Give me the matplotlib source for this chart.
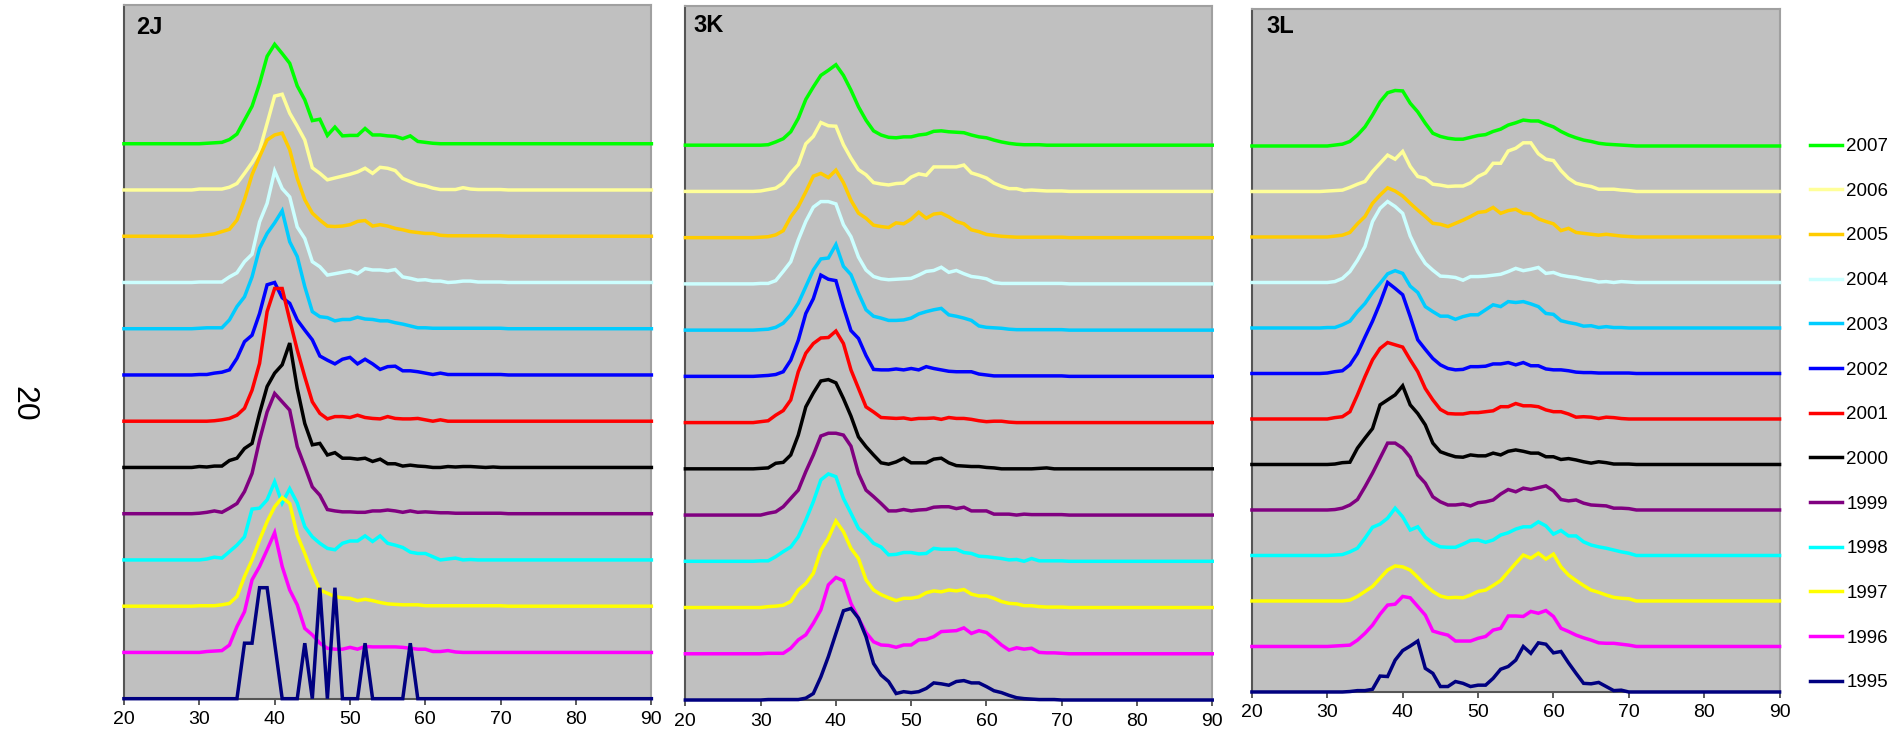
import numpy as np
import matplotlib
matplotlib.use("Agg")
import matplotlib.pyplot as plt
from matplotlib.lines import Line2D

plt.rcParams['font.family'] = ['Liberation Sans', 'DejaVu Sans']

years = [1995, 1996, 1997, 1998, 1999, 2000, 2001, 2002, 2003, 2004, 2005, 2006, 2007]
colors = ['#000080', '#FF00FF', '#FFFF00', '#00FFFF', '#800080', '#000000', '#FF0000',
          '#0000FF', '#00CCFF', '#CCFFFF', '#FFCC00', '#FFFF99', '#00FF00']
divisions = ['2J', '3K', '3L']

# length classes (cm) with non-zero frequencies; 20-29 and 71-90 are empty
length = np.arange(30, 71)

# percent at length, one row per year (1995 first), columns 30..70 cm
lf_2j = [
    [0, 0, 0, 0, 0, 0, 12, 12, 24, 24, 12, 0, 0, 0, 12, 0, 24, 0, 24, 0,
     0, 0, 12, 0, 0, 0, 0, 0, 12, 0, 0, 0, 0, 0, 0, 0, 0, 0, 0, 0, 0],
    [0, 0.2, 0.3, 0.4, 1.6, 5.6, 8.8, 15.7, 18.6, 22.2, 25.9, 18.6, 13.5, 10.3, 5.2, 3.8, 2.0, 0.9, 0.7, 0.7,
     1.1, 0.7, 1.3, 1.2, 1.2, 1.2, 1.2, 1.1, 0.9, 0.7, 0.7, 0.2, 0.2, 0.4, 0.1, 0, 0, 0, 0, 0, 0],
    [0.1, 0.1, 0.1, 0.3, 0.6, 2.1, 6.4, 10.0, 14.3, 18.3, 21.5, 23.5, 22.2, 15.4, 11.4, 7.1, 3.5, 2.8, 2.1, 1.8,
     1.7, 1.2, 1.5, 1.2, 0.8, 0.5, 0.4, 0.3, 0.3, 0.3, 0.1, 0.1, 0.1, 0.1, 0.1, 0.1, 0.1, 0.1, 0.1, 0.1, 0.1],
    [0, 0.2, 0.6, 0.4, 1.8, 3.2, 5.0, 11.0, 11.2, 13.0, 16.9, 12.3, 15.4, 12.3, 7.2, 5.0, 3.6, 2.5, 2.2, 3.6,
     4.1, 4.1, 5.2, 4.0, 5.2, 3.6, 3.2, 2.7, 1.7, 1.4, 1.4, 0.7, 0, 0.2, 0.4, 0, 0.1, 0, 0, 0, 0],
    [0.1, 0.3, 0.6, 0.3, 1.2, 2.2, 4.8, 8.7, 15.9, 22.0, 26.0, 24.2, 22.4, 14.5, 10.2, 5.8, 4.0, 0.9, 0.6, 0.4,
     0.4, 0.3, 0.3, 0.6, 0.6, 0.8, 0.6, 0.3, 0.6, 0.3, 0.4, 0.3, 0.2, 0.2, 0.1, 0.1, 0.1, 0.1, 0.1, 0.1, 0.1],
    [0.2, 0.1, 0.3, 0.3, 1.5, 2.0, 4.1, 5.2, 11.7, 17.5, 20.4, 22.2, 26.9, 17.1, 9.5, 4.9, 5.2, 2.7, 3.2, 2.0,
     2.0, 1.8, 2.0, 1.3, 1.8, 0.8, 0.8, 0.3, 0.5, 0.3, 0.2, 0, 0, 0.2, 0.1, 0.2, 0.2, 0.1, 0, 0.1, 0],
    [0, 0, 0.1, 0.3, 0.6, 1.3, 2.8, 6.7, 12.5, 23.7, 28.7, 28.7, 21.9, 15.4, 9.6, 4.2, 1.7, 0.5, 1.0, 1.0,
     0.8, 1.3, 0.8, 0.6, 0.5, 1.0, 0.6, 0.5, 0.5, 0.6, 0.3, 0, 0.3, 0, 0, 0, 0, 0, 0, 0, 0],
    [0.1, 0.1, 0.4, 0.6, 1.1, 3.6, 7.2, 8.6, 13.3, 19.5, 20.0, 16.7, 15.5, 11.9, 9.7, 7.6, 4.1, 3.2, 2.4, 3.4,
     3.8, 2.4, 3.4, 2.4, 1.2, 1.8, 1.9, 0.9, 0.9, 0.7, 0.4, 0.1, 0.4, 0.1, 0.1, 0.1, 0.1, 0.1, 0.1, 0.1, 0.1],
    [0.1, 0.2, 0.2, 0.2, 1.9, 4.8, 6.9, 11.2, 17.4, 20.6, 22.9, 25.5, 18.8, 15.6, 9.1, 3.7, 2.6, 2.4, 1.7, 2.0,
     2.0, 2.5, 2.1, 2.0, 1.7, 1.7, 1.3, 1.0, 0.6, 0.2, 0.2, 0.1, 0.1, 0.1, 0.1, 0.1, 0.1, 0.1, 0.1, 0.1, 0.1],
    [0.1, 0.1, 0.1, 0.1, 1.2, 2.1, 4.5, 6.1, 13.1, 17.1, 24.1, 20.3, 18.5, 12.0, 9.5, 4.5, 3.4, 1.6, 1.9, 2.2,
     2.5, 1.9, 3.0, 2.7, 2.7, 2.5, 2.8, 1.2, 0.9, 0.5, 0.6, 0.3, 0.3, 0, 0.1, 0.3, 0.3, 0.1, 0.1, 0.1, 0.1],
    [0.1, 0.3, 0.5, 1.0, 1.5, 3.5, 7.9, 13.3, 17.2, 20.8, 21.9, 22.3, 18.7, 12.5, 7.9, 5.0, 3.5, 2.2, 2.1, 2.2,
     2.5, 3.2, 3.4, 2.2, 2.5, 2.2, 1.7, 1.4, 1.0, 0.8, 0.6, 0.6, 0.2, 0.1, 0.1, 0.1, 0.1, 0.1, 0.1, 0.1, 0.1],
    [0.2, 0.2, 0.2, 0.2, 0.6, 1.4, 3.6, 5.9, 8.6, 14.4, 20.3, 20.7, 16.6, 13.8, 10.8, 4.8, 3.6, 2.2, 2.6, 3.0,
     3.4, 3.9, 4.7, 3.6, 4.9, 4.7, 4.2, 2.5, 1.8, 1.2, 0.9, 0.4, 0.1, 0.1, 0.1, 0.5, 0.2, 0.1, 0.1, 0.1, 0.1],
    [0, 0.1, 0.2, 0.3, 0.9, 2.1, 5.1, 8.1, 13.0, 18.9, 21.5, 19.5, 17.4, 12.5, 9.5, 5.0, 5.3, 1.8, 3.6, 1.7,
     1.8, 1.8, 3.3, 1.9, 1.9, 1.7, 1.6, 1.1, 1.7, 0.5, 0.3, 0.1, 0, 0, 0, 0, 0, 0, 0, 0, 0],
]

lf_3k = [
    [0, 0.1, 0.1, 0.1, 0.1, 0.1, 0.4, 1.4, 5.0, 9.4, 14.4, 19.3, 19.8, 17.7, 13.7, 7.9, 5.4, 4.0, 1.4, 1.8,
     1.6, 1.8, 2.5, 3.7, 3.5, 3.2, 4.0, 4.2, 3.7, 3.7, 2.9, 2.0, 1.6, 1.0, 0.5, 0.3, 0.2, 0.1, 0.1, 0.1, 0],
    [0, 0.1, 0.1, 0.1, 1.2, 3.0, 4.1, 6.6, 9.5, 14.9, 16.5, 15.8, 10.9, 7.7, 4.6, 2.6, 1.9, 1.8, 1.4, 1.9,
     1.9, 3.0, 3.1, 3.7, 4.8, 4.9, 5.0, 5.6, 4.4, 5.0, 4.6, 3.3, 1.9, 0.8, 1.3, 1.0, 1.2, 0.3, 0.2, 0.2, 0.1],
    [0, 0.2, 0.3, 0.5, 1.3, 3.8, 5.2, 7.4, 12.4, 15.0, 18.7, 16.4, 12.8, 10.6, 6.0, 3.8, 2.8, 2.1, 1.5, 2.0,
     2.0, 2.3, 3.2, 3.6, 3.4, 3.8, 3.6, 3.9, 2.9, 2.5, 2.5, 2.0, 1.3, 0.9, 0.8, 0.4, 0.4, 0.2, 0.1, 0.1, 0.1],
    [0.1, 0.1, 1.0, 2.1, 3.1, 5.3, 8.9, 12.9, 17.6, 18.9, 18.3, 13.6, 10.4, 7.1, 5.7, 3.9, 3.1, 1.4, 1.5, 1.9,
     1.9, 1.6, 1.7, 2.8, 2.6, 2.6, 2.6, 1.9, 1.7, 1.1, 1.0, 0.8, 0.6, 0.3, 0.4, 0, 0.6, 0.1, 0.1, 0.1, 0.1],
    [0, 0.4, 0.7, 1.8, 3.6, 5.4, 9.4, 13.0, 17.1, 17.7, 17.7, 17.3, 14.9, 9.0, 5.4, 4.0, 2.5, 0.9, 0.9, 1.2,
     0.9, 1.1, 1.2, 1.7, 1.8, 1.8, 1.4, 1.7, 0.9, 0.9, 0.9, 0.2, 0.2, 0.2, 0, 0.2, 0.1, 0.1, 0.1, 0.1, 0.1],
    [0.1, 0.2, 1.2, 1.4, 3.0, 7.3, 13.4, 16.4, 19.0, 19.3, 18.6, 15.2, 11.4, 6.9, 4.8, 3.0, 1.3, 1.0, 1.5, 2.3,
     1.3, 1.3, 1.3, 2.1, 2.3, 1.3, 0.7, 0.6, 0.5, 0.5, 0.3, 0.2, 0, 0, 0, 0, 0, 0.1, 0.2, 0, 0],
    [0.2, 0.4, 1.6, 2.6, 4.9, 11.0, 15.0, 17.1, 18.3, 18.4, 19.8, 17.1, 11.4, 7.4, 3.4, 2.3, 1.1, 1.0, 0.9, 1.0,
     0.7, 0.9, 0.9, 1.0, 0.7, 1.1, 0.9, 0.9, 0.7, 0.4, 0.2, 0.3, 0.3, 0.1, 0, 0, 0, 0, 0, 0, 0],
    [0.1, 0.2, 0.4, 1.0, 3.5, 7.8, 13.6, 16.8, 21.9, 21.0, 20.7, 15.0, 9.9, 8.2, 4.5, 1.5, 1.4, 1.4, 1.6, 1.4,
     1.7, 1.4, 2.1, 1.7, 1.4, 1.1, 1.0, 1.0, 1.0, 0.5, 0.3, 0.1, 0.1, 0.1, 0.1, 0.1, 0.1, 0.1, 0.1, 0.1, 0.1],
    [0.1, 0.2, 0.6, 1.5, 3.3, 5.8, 9.4, 13.0, 15.4, 15.6, 18.5, 13.8, 12.0, 8.0, 4.4, 3.0, 2.6, 2.1, 2.1, 2.2,
     2.6, 3.5, 4.0, 4.4, 4.7, 3.3, 3.0, 2.6, 2.1, 0.9, 0.6, 0.5, 0.4, 0.2, 0.1, 0.1, 0.1, 0.1, 0.1, 0.1, 0.1],
    [0.1, 0.1, 0.7, 2.7, 4.8, 9.5, 13.5, 16.6, 17.8, 17.8, 17.3, 12.8, 10.2, 5.8, 3.0, 1.6, 1.1, 0.9, 1.0, 1.1,
     1.2, 1.9, 2.7, 2.9, 3.6, 2.5, 2.9, 2.2, 1.6, 1.4, 1.1, 0.3, 0.1, 0.1, 0.1, 0.1, 0.1, 0.1, 0.1, 0.1, 0.1],
    [0.1, 0.2, 0.6, 1.5, 4.5, 6.7, 9.9, 13.3, 13.9, 13.0, 14.6, 11.9, 8.1, 5.3, 4.2, 2.7, 2.4, 2.2, 3.2, 3.0,
     4.0, 5.5, 4.2, 5.1, 5.3, 4.5, 3.5, 3.0, 1.7, 1.3, 0.7, 0.5, 0.3, 0.2, 0.1, 0.1, 0.1, 0.1, 0.1, 0.1, 0.1],
    [0.1, 0.4, 0.7, 1.8, 4.0, 5.8, 10.3, 11.9, 14.9, 14.2, 14.1, 10.1, 7.2, 4.7, 3.6, 1.9, 1.6, 1.4, 1.7, 1.8,
     3.1, 3.8, 3.5, 5.3, 5.3, 5.3, 5.3, 5.7, 4.0, 3.5, 2.9, 1.8, 1.1, 0.6, 0.6, 0.2, 0.3, 0.2, 0.1, 0.1, 0.1],
    [0, 0.1, 0.7, 1.4, 2.9, 5.8, 9.9, 12.6, 15.1, 16.2, 17.4, 15.1, 11.9, 8.3, 5.4, 3.1, 2.2, 1.7, 1.6, 1.8,
     1.8, 2.2, 2.4, 3.0, 3.1, 2.9, 2.8, 2.7, 2.2, 1.8, 1.6, 1.1, 0.7, 0.4, 0.2, 0.1, 0.1, 0.1, 0, 0, 0],
]

lf_3l = [
    [0, 0, 0, 0.1, 0.3, 0.3, 0.6, 3.5, 3.4, 7.0, 9.1, 10.1, 11.2, 5.2, 4.1, 1.2, 1.2, 2.3, 1.9, 1.2,
     1.5, 1.5, 3.0, 5.0, 5.6, 7.0, 10.0, 8.5, 10.8, 10.5, 8.6, 8.9, 6.4, 4.1, 1.9, 1.8, 2.1, 1.2, 0.3, 0.4, 0],
    [0, 0.1, 0.2, 0.3, 1.4, 2.9, 4.7, 7.1, 9.1, 9.3, 11.0, 10.7, 8.8, 6.9, 3.4, 2.9, 2.5, 1.2, 1.2, 1.2,
     1.8, 2.2, 3.6, 4.0, 6.7, 6.7, 6.6, 7.7, 7.3, 7.9, 6.6, 4.0, 3.3, 2.5, 1.9, 1.4, 0.8, 0.7, 0.7, 0.5, 0.3],
    [0, 0, 0, 0.2, 1.0, 2.1, 3.2, 5.0, 6.8, 7.7, 7.5, 6.8, 5.2, 3.5, 2.1, 1.1, 0.7, 0.8, 0.7, 1.3,
     2.1, 2.4, 3.4, 4.5, 6.4, 8.3, 10.1, 9.4, 10.5, 9.2, 10.3, 7.5, 5.7, 4.5, 3.4, 2.4, 1.9, 1.3, 0.8, 0.6, 0.5],
    [0, 0.1, 0.2, 0.8, 1.6, 3.8, 6.2, 6.9, 8.2, 10.4, 8.5, 5.6, 6.3, 4.0, 2.7, 1.9, 1.8, 1.8, 2.5, 3.3,
     3.4, 2.9, 3.4, 4.5, 5.0, 5.8, 6.3, 6.3, 7.4, 6.5, 4.7, 5.5, 4.3, 4.3, 3.0, 2.3, 1.9, 1.6, 1.2, 0.8, 0.5],
    [0, 0.1, 0.4, 1.1, 2.3, 5.1, 8.1, 11.4, 14.7, 14.7, 13.6, 11.6, 7.7, 5.9, 2.9, 1.8, 1.1, 1.1, 1.3, 0.9,
     1.6, 1.8, 2.2, 3.5, 4.5, 4.0, 4.8, 4.5, 4.9, 5.3, 4.2, 2.3, 2.0, 2.2, 1.5, 1.1, 1.0, 0.9, 0.4, 0.4, 0.3],
    [0, 0.1, 0.4, 0.5, 3.6, 5.8, 7.9, 13.1, 14.2, 15.3, 17.3, 13.1, 11.2, 8.7, 4.7, 2.8, 2.2, 1.7, 1.6, 2.1,
     1.9, 1.9, 2.5, 2.1, 2.9, 3.2, 2.9, 2.5, 2.5, 1.7, 1.7, 1.1, 1.3, 1.0, 0.6, 0.3, 0.6, 0.4, 0.1, 0.1, 0.1],
    [0, 0.3, 0.5, 1.6, 5.3, 9.3, 13.0, 15.5, 16.8, 16.3, 15.8, 13.0, 10.4, 6.7, 4.2, 2.1, 1.2, 1.1, 1.1, 1.4,
     1.4, 1.6, 1.8, 2.7, 2.7, 3.4, 2.9, 2.9, 2.7, 2.0, 1.6, 1.6, 1.1, 0.4, 0.5, 0.4, 0.1, 0.4, 0.3, 0.1, 0],
    [0.1, 0.4, 0.6, 1.9, 4.4, 8.0, 11.5, 15.5, 20.0, 18.7, 17.3, 12.5, 7.4, 5.3, 3.3, 1.9, 1.1, 0.8, 0.9, 1.5,
     1.5, 1.6, 2.1, 2.1, 2.4, 1.9, 2.4, 1.7, 1.7, 1.0, 0.8, 0.8, 0.6, 0.3, 0.2, 0.2, 0.1, 0.1, 0.1, 0.1, 0.1],
    [0.1, 0.1, 0.7, 1.5, 3.6, 5.4, 7.8, 9.8, 11.9, 12.6, 12.0, 9.2, 7.8, 4.7, 3.6, 2.6, 2.6, 1.9, 2.5, 2.9,
     2.9, 4.0, 5.1, 4.7, 5.8, 5.6, 5.8, 5.3, 4.7, 3.2, 3.0, 1.6, 1.2, 0.9, 0.4, 0.5, 0.1, 0.3, 0.1, 0.1, 0],
    [0, 0.2, 0.9, 2.4, 4.9, 7.9, 13.4, 16.3, 17.8, 16.7, 15.2, 10.2, 6.8, 4.2, 2.7, 1.4, 1.3, 1.1, 0.5, 1.3,
     1.3, 1.4, 1.6, 1.8, 2.4, 3.1, 2.6, 2.9, 3.3, 2.0, 2.2, 1.6, 1.3, 1.1, 0.7, 0.5, 0.1, 0.2, 0, 0.2, 0.1],
    [0, 0.2, 0.4, 1.0, 2.9, 4.5, 7.4, 9.2, 10.8, 10.1, 9.0, 7.4, 5.9, 4.5, 3.0, 2.8, 2.3, 3.0, 3.7, 4.5,
     5.4, 5.6, 6.5, 5.2, 5.8, 6.1, 5.2, 5.1, 4.0, 3.4, 2.9, 1.4, 1.9, 1.0, 0.8, 0.6, 0.4, 0.6, 0.4, 0.2, 0.1],
    [0.1, 0.2, 0.3, 0.9, 1.6, 2.2, 4.4, 6.2, 8.0, 7.1, 8.8, 5.5, 3.3, 2.9, 1.6, 1.4, 1.1, 1.2, 1.2, 1.9,
     3.3, 4.1, 6.2, 6.2, 8.9, 9.5, 10.7, 10.7, 8.3, 7.1, 6.8, 4.6, 2.9, 1.8, 1.4, 1.1, 0.5, 0.5, 0.5, 0.3, 0.2],
    [0, 0.2, 0.4, 1.0, 2.4, 4.2, 6.8, 9.7, 11.7, 12.2, 12.1, 9.4, 7.5, 5.0, 2.8, 2.1, 1.7, 1.5, 1.5, 1.9,
     2.3, 2.5, 3.2, 3.7, 4.6, 5.1, 5.7, 5.5, 5.5, 4.8, 4.2, 3.2, 2.4, 1.8, 1.3, 1.0, 0.6, 0.4, 0.3, 0.2, 0.1],
]

for tab in (lf_2j, lf_3k, lf_3l):
    for row in tab:
        if len(row) != len(length):
            raise ValueError("bad row length %d" % len(row))

step = 10                       # vertical offset between successive years
full_len = np.arange(20, 91)

def pad(row):
    return np.concatenate([np.zeros(10), np.asarray(row, float), np.zeros(20)])

fig = plt.figure(figsize=(18.98, 7.36), dpi=100)
rects = [[0.0653, 0.0507, 0.2779, 0.9425],
         [0.3611, 0.0489, 0.2776, 0.9423],
         [0.6596, 0.0598, 0.2780, 0.9273]]
# panel label offsets from the top-left corner, in pixels
label_off = [(12, 11), (8, 8), (15, 6)]

lw = 2.5
for name, tab, rect, (dx, dy) in zip(divisions, (lf_2j, lf_3k, lf_3l), rects, label_off):
    ax = fig.add_axes(rect)
    ax.set_facecolor('#C0C0C0')
    # 2007 first so the earlier years sit on top
    for k in range(len(years) - 1, -1, -1):
        ax.plot(full_len, pad(tab[k]) + step * k, color=colors[k], lw=lw,
                solid_joinstyle='miter', clip_on=False, zorder=3 + (12 - k))
    ax.set_xlim(20, 90)
    ax.set_ylim(0, 15 * step)
    ax.set_xticks(np.arange(20, 91, 10))
    ax.set_yticks([])
    ax.tick_params(axis='x', length=4, width=1.2, color='#404040', labelsize=14, pad=5)
    for s in ('left', 'bottom'):
        ax.spines[s].set_color('#555555')
        ax.spines[s].set_linewidth(1.5)
    for s in ('top', 'right'):
        ax.spines[s].set_color('#A0A0A0')
        ax.spines[s].set_linewidth(1.5)
    w_px = rect[2] * 1898
    h_px = rect[3] * 736
    ax.text(dx / w_px, 1 - dy / h_px, name, transform=ax.transAxes, ha='left', va='top',
            fontsize=17, fontweight='bold')

fig.text(23 / 1898, 1 - 404 / 736, '20', rotation=-90, fontsize=23,
         ha='center', va='center')

handles = [Line2D([], [], color=colors[k], lw=lw) for k in range(len(years) - 1, -1, -1)]
labels = [str(years[k]) for k in range(len(years) - 1, -1, -1)]
fig.legend(handles, labels, loc='upper left', bbox_to_anchor=(0.9535, 0.8125),
           frameon=False, fontsize=13.5, handlelength=1.7, handletextpad=0.25,
           labelspacing=1.47, borderpad=0, borderaxespad=0)

fig.savefig('out.png', dpi=100)
